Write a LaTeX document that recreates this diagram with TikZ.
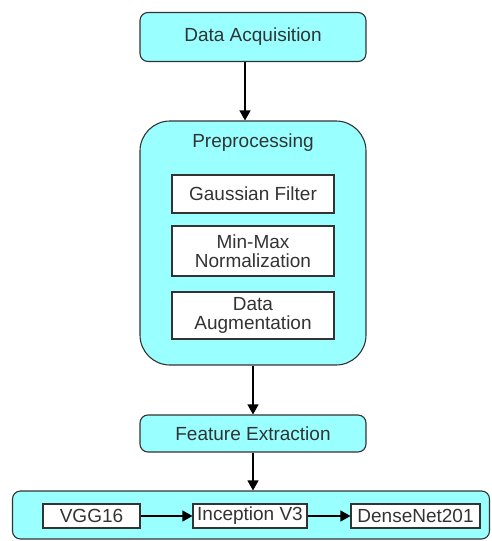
\documentclass[tikz,border=0pt]{standalone}
\usepackage{fontspec}
\setmainfont{Liberation Sans}
\usetikzlibrary{arrows.meta}
\definecolor{boxfill}{HTML}{99FFFF}
\definecolor{edge}{HTML}{333333}
\definecolor{ink}{HTML}{333333}
\tikzset{
  stage/.style={draw=edge, fill=boxfill, line width=1.1pt, rounded corners=8pt, inner sep=0pt},
  group/.style={draw=edge, fill=boxfill, line width=1.1pt, rounded corners=30pt, inner sep=0pt},
  sub/.style={draw=edge, fill=white, line width=1.1pt, inner sep=0pt, align=center},
  label/.style={text=ink, font=\fontsize{19}{18.5}\selectfont, align=center},
  arr/.style={draw=black, line width=1.2pt, -{Triangle[width=11pt,length=10pt]}}
}
\begin{document}
\begin{tikzpicture}[x=1pt, y=-1pt]
  \useasboundingbox (0,0) rectangle (492,541);
  % stages of the pipeline
  \node[stage, minimum width=226pt, minimum height=49pt] (da) at (253,37) {};
  \node[label] at (da) {Data Acquisition};
  \node[group, minimum width=226pt, minimum height=244pt] (pre) at (253,243) {};
  \node[label] (pret) at (253,143) {Preprocessing};
  \node[sub, minimum width=162pt, minimum height=38pt] (gf) at (253,194) {};
  \node[label] at (gf) {Gaussian Filter};
  \node[sub, minimum width=162pt, minimum height=50pt] (mm) at (253,251) {};
  \node[label] at (mm) {Min-Max\\Normalization};
  \node[sub, minimum width=162pt, minimum height=47pt] (au) at (253,315.5) {};
  \node[label] at (au) {Data\\Augmentation};
  \node[stage, minimum width=226pt, minimum height=37pt] (fe) at (253,433.5) {};
  \node[label] at (fe) {Feature Extraction};
  % backbone networks
  \node[stage, minimum width=477pt, minimum height=48pt] (nets) at (251,515) {};
  \node[sub, minimum width=97pt, minimum height=24pt] (vgg) at (91.5,516) {};
  \node[label] at (vgg) {VGG16};
  \node[sub, minimum width=114pt, minimum height=24pt] (inc) at (250,516) {};
  \node[label] at (inc) {Inception V3};
  \node[sub, minimum width=129pt, minimum height=24pt] (dn) at (415.5,516) {};
  \node[label] at (dn) {DenseNet201};
  % connectors
  \draw[arr] ([xshift=-8pt]da.south) -- ([xshift=-8pt]pre.north);
  \draw[arr] (pre.south) -- (fe.north);
  \draw[arr] (fe.south) -- (nets.north -| fe.south);
  \draw[arr] (vgg.east) -- (inc.west);
  \draw[arr] (inc.east) -- (dn.west);
\end{tikzpicture}
\end{document}
